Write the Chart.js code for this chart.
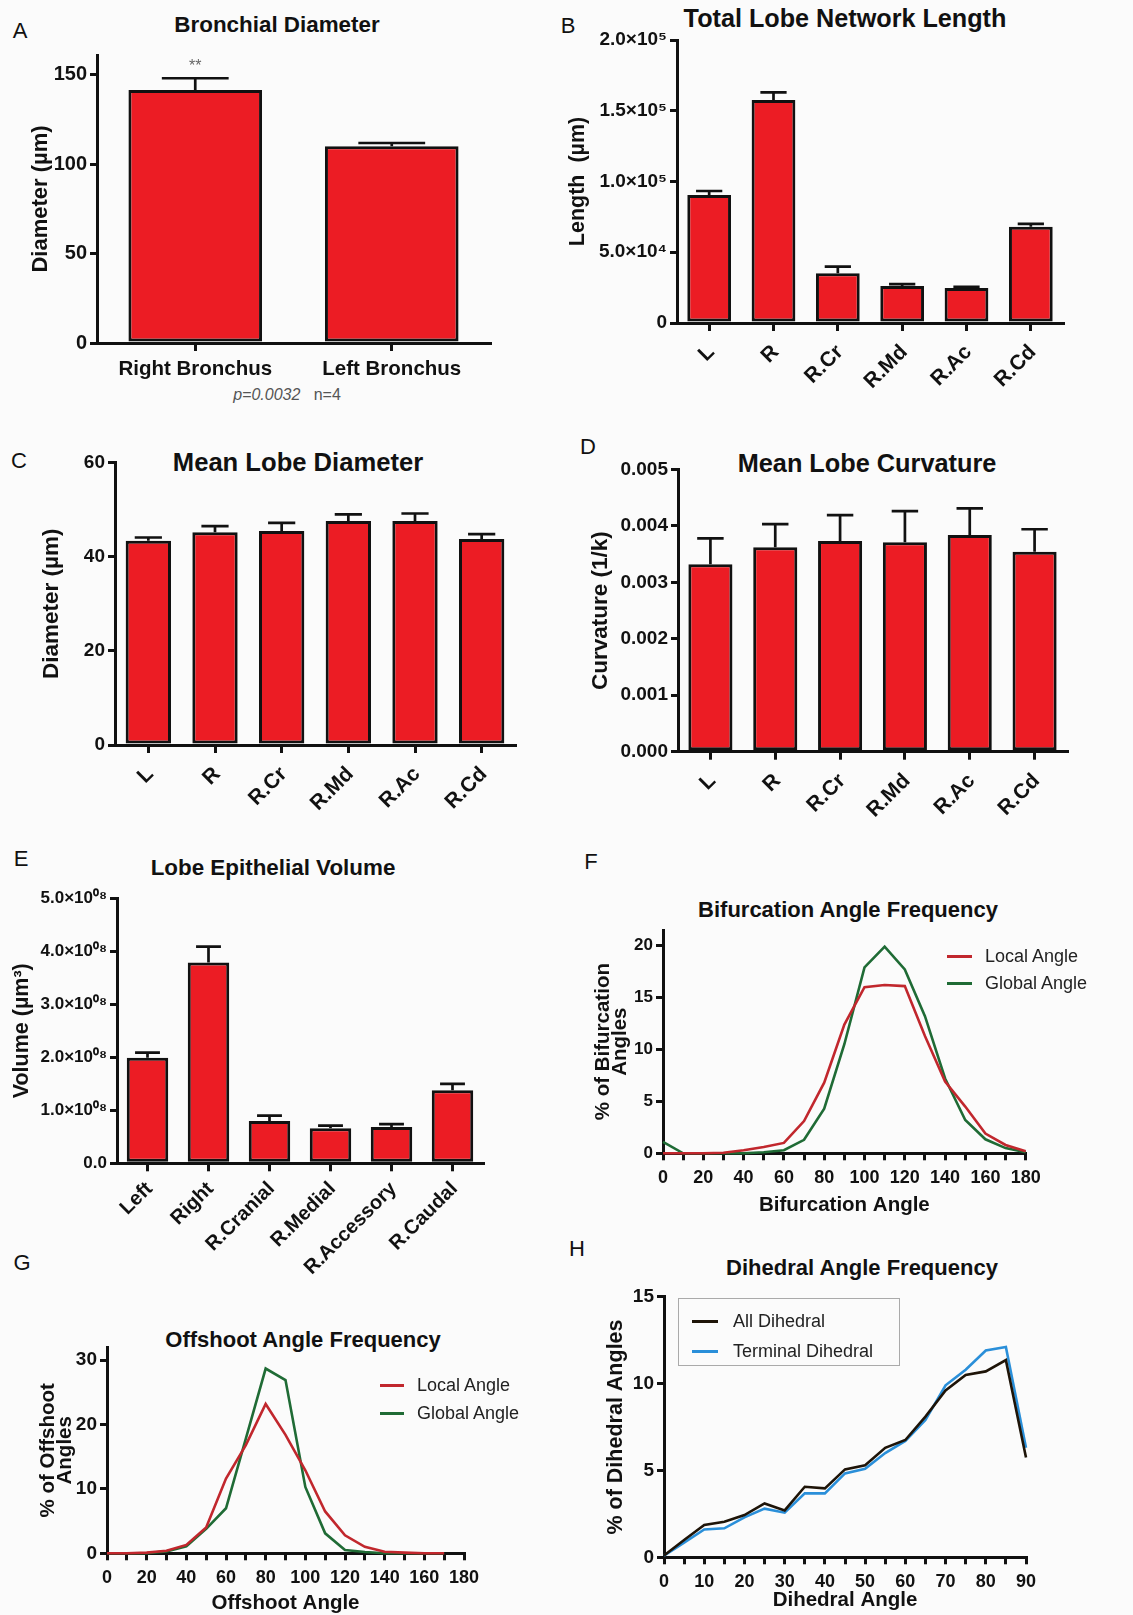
<!DOCTYPE html>
<html>
<head>
<meta charset="utf-8">
<script src="https://cdn.jsdelivr.net/npm/chart.js@4.4.0/dist/chart.umd.min.js"></script>
<style>
  body { margin: 0; background: #fbfbfb; }
  #page { position: relative; width: 1133px; height: 1615px; overflow: hidden;
          font-family: "Liberation Sans", Arial, sans-serif; color: #111; }
  canvas { position: absolute; }
  .lbl { position: absolute; transform: translate(-50%, -50%); white-space: nowrap; }
  .letter { font-size: 22px; }
  .ttl { font-weight: bold; }
  .legend { position: absolute; font-size: 18px; color: #222; box-sizing: border-box; }
  .legend .row { display: flex; align-items: center; }
  .legend .swatch { display: inline-block; height: 3px; }
</style>
</head>
<body>
<div id="page">
  <div class="lbl letter" style="left:20px;top:31px">A</div>
  <div class="lbl letter" style="left:568px;top:26px">B</div>
  <div class="lbl letter" style="left:19px;top:461px">C</div>
  <div class="lbl letter" style="left:588px;top:447px">D</div>
  <div class="lbl letter" style="left:21px;top:859px">E</div>
  <div class="lbl letter" style="left:591px;top:862px">F</div>
  <div class="lbl letter" style="left:22px;top:1263px">G</div>
  <div class="lbl letter" style="left:577px;top:1249px">H</div>

  <div class="lbl ttl" style="left:277px;top:25px;font-size:22.4px">Bronchial Diameter</div>
  <div class="lbl ttl" style="left:845px;top:18px;font-size:25.2px">Total Lobe Network Length</div>
  <div class="lbl ttl" style="left:298px;top:462px;font-size:25.6px">Mean Lobe Diameter</div>
  <div class="lbl ttl" style="left:867px;top:463px;font-size:25.3px">Mean Lobe Curvature</div>
  <div class="lbl ttl" style="left:273px;top:868px;font-size:22.4px">Lobe Epithelial Volume</div>
  <div class="lbl ttl" style="left:848px;top:910px;font-size:22px">Bifurcation Angle Frequency</div>
  <div class="lbl ttl" style="left:303px;top:1340px;font-size:22px">Offshoot Angle Frequency</div>
  <div class="lbl ttl" style="left:862px;top:1268px;font-size:22px">Dihedral Angle Frequency</div>

  <div class="lbl" style="left:287px;top:395px;font-size:16px;color:#555"><i>p=0.0032</i>&nbsp;&nbsp; n=4</div>
</div>

<script>
// ---- data ----
const bronchusLabels = ['Right Bronchus', 'Left Bronchus'];
const bronchusDiameter = [141.5, 110];
const bronchusSem = [6.5, 1.8];

const lobeLabels = ['L', 'R', 'R.Cr', 'R.Md', 'R.Ac', 'R.Cd'];
const lobeLength = [90500, 157600, 35100, 26100, 24700, 68100];
const lobeLengthSem = [2800, 5400, 4700, 1400, 900, 1900];
const lobeDiameter = [43.4, 45.2, 45.5, 47.6, 47.6, 43.8];
const lobeDiameterSem = [0.7, 1.3, 1.7, 1.4, 1.6, 1.0];
const lobeCurvature = [0.00332, 0.00362, 0.00373, 0.00371, 0.00384, 0.00354];
const lobeCurvatureSem = [0.00046, 0.00041, 0.00046, 0.00055, 0.00047, 0.00040];

const volumeLabels = ['Left', 'Right', 'R.Cranial', 'R.Medial', 'R.Accessory', 'R.Caudal'];
const lobeVolume = [1.99e8, 3.79e8, 0.80e8, 0.66e8, 0.685e8, 1.38e8];
const lobeVolumeSem = [0.10e8, 0.30e8, 0.10e8, 0.05e8, 0.055e8, 0.12e8];

const bifAngles = [0, 10, 20, 30, 40, 50, 60, 70, 80, 90, 100, 110, 120, 130, 140, 150, 160, 170, 180];
const bifLocal  = [0, 0, 0, 0.05, 0.3, 0.6, 1.0, 3.1, 6.8, 12.4, 16.0, 16.2, 16.1, 11.3, 6.9, 4.5, 1.9, 0.8, 0.2];
const bifGlobal = [1.1, 0, 0, 0, 0, 0.1, 0.3, 1.3, 4.3, 10.5, 17.9, 19.9, 17.7, 13.2, 7.2, 3.2, 1.35, 0.5, 0.1];

const offAngles = [0, 10, 20, 30, 40, 50, 60, 70, 80, 90, 100, 110, 120, 130, 140, 150, 160, 170];
const offLocal  = [0, 0, 0.1, 0.4, 1.3, 4.0, 11.6, 16.8, 23.2, 18.4, 12.9, 6.5, 2.8, 1.0, 0.25, 0.1, 0, 0];
const offGlobal = [0, 0, 0, 0.3, 1.1, 3.8, 7.0, 17.8, 28.7, 26.9, 10.3, 3.1, 0.5, 0.2, 0, 0, 0, 0];

const dihAngles = [0, 5, 10, 15, 20, 25, 30, 35, 40, 45, 50, 55, 60, 65, 70, 75, 80, 85, 90];
const dihAll      = [0.1, 1.0, 1.86, 2.05, 2.43, 3.1, 2.7, 4.06, 3.97, 5.06, 5.3, 6.3, 6.75, 8.1, 9.6, 10.5, 10.7, 11.35, 5.75];
const dihTerminal = [0.1, 0.84, 1.6, 1.67, 2.3, 2.8, 2.57, 3.68, 3.68, 4.83, 5.1, 6.0, 6.7, 7.9, 9.9, 10.8, 11.9, 12.1, 6.3];

const INK = '#111';
const RED = '#EC1C24';
Chart.defaults.font.family = '"Liberation Sans", Arial, sans-serif';
Chart.defaults.color = INK;

// one-sided SEM bars drawn over the bars
const errorBars = {
  id: 'errorBars',
  afterDatasetsDraw(chart, args, opts) {
    if (!opts || !opts.sem) return;
    const ctx = chart.ctx;
    const y = chart.scales.y;
    const vals = chart.data.datasets[0].data;
    ctx.save();
    ctx.strokeStyle = INK;
    ctx.lineWidth = 2.7;
    chart.getDatasetMeta(0).data.forEach((bar, i) => {
      const top = y.getPixelForValue(vals[i] + opts.sem[i]);
      const half = bar.width * opts.cap / 2;
      ctx.beginPath();
      ctx.moveTo(bar.x, bar.y);
      ctx.lineTo(bar.x, top);
      ctx.moveTo(bar.x - half, top);
      ctx.lineTo(bar.x + half, top);
      ctx.stroke();
      if (opts.marks && opts.marks[i]) {
        ctx.fillStyle = '#666';
        ctx.font = '16px "Liberation Sans", Arial, sans-serif';
        ctx.textAlign = 'center';
        ctx.textBaseline = 'middle';
        ctx.fillText(opts.marks[i], bar.x, top - 12);
      }
    });
    ctx.restore();
  }
};
Chart.register(errorBars);

function mount(box) {
  const c = document.createElement('canvas');
  c.width = box.r - box.l;
  c.height = box.b - box.t;
  c.style.left = box.l + 'px';
  c.style.top = box.t + 'px';
  document.getElementById('page').appendChild(c);
  return c.getContext('2d');
}

// padding + fixed axis sizes so the plot area sits where the figure has it
function geometry(box, area, titleX, titleSize, titleLH, xHeight) {
  const padL = titleX - box.l - titleSize * titleLH / 2 - 2;
  return {
    layout: { padding: { left: padL, top: area.t - box.t, right: box.r - area.r,
                         bottom: box.b - area.b - xHeight } },
    yWidth: area.l - box.l - padL,
    xHeight: xHeight
  };
}

function axisLines(tick) {
  return {
    grid: { drawOnChartArea: false, tickLength: tick, lineWidth: 3, color: INK },
    border: { color: INK, width: 3 }
  };
}

function yAxis(g, max, step, size, title, titleSize, titleLH, fmt) {
  return Object.assign(axisLines(7), {
    min: 0, max: max,
    afterFit: s => { s.width = g.yWidth; },
    ticks: { stepSize: step, includeBounds: false, padding: 3, color: INK,
             font: { size: size, weight: 'bold' }, callback: fmt || (v => v) },
    title: { display: true, text: title, color: INK, padding: { top: 2, bottom: 0 },
             font: { size: titleSize, weight: 'bold', lineHeight: titleLH } }
  });
}

function xCategory(g, size, rot, pad) {
  const a = axisLines(8);
  a.grid.offset = false;
  return Object.assign(a, {
    offset: true,
    afterFit: s => { s.height = g.xHeight; },
    ticks: { color: INK, font: { size: size, weight: 'bold' }, minRotation: rot, maxRotation: rot,
             autoSkip: false, padding: pad, labelOffset: rot ? 2 : 0 }
  });
}

function xLinear(g, max, step, every, title, titleBottom) {
  return Object.assign(axisLines(7), {
    type: 'linear', min: 0, max: max,
    afterFit: s => { s.height = g.xHeight; },
    ticks: { stepSize: step, autoSkip: false, maxRotation: 0, padding: 7, color: INK,
             font: { size: 18, weight: 'bold' }, callback: v => (v % every === 0 ? v : '') },
    title: { display: true, text: title, color: INK, padding: { top: 0, bottom: titleBottom },
             font: { size: 20.5, weight: 'bold', lineHeight: 1.2 } }
  });
}

function barChart(box, area, xHeight, titleX, titleSize, labels, values, sem, yCfg, xSize, rot, xPad, cap, marks) {
  const g = geometry(box, area, titleX, titleSize, 1.2, xHeight);
  return new Chart(mount(box), {
    type: 'bar',
    data: {
      labels: labels,
      datasets: [{
        data: values,
        backgroundColor: RED,
        borderColor: INK,
        borderWidth: 3,
        borderSkipped: false,
        barPercentage: 0.68,
        categoryPercentage: 1.0
      }]
    },
    options: {
      responsive: false,
      animation: false,
      layout: g.layout,
      plugins: { legend: { display: false }, tooltip: { enabled: false },
                 errorBars: { sem: sem, cap: cap, marks: marks } },
      scales: {
        x: xCategory(g, xSize, rot, xPad),
        y: yAxis(g, yCfg.max, yCfg.step, yCfg.size, yCfg.title, titleSize, 1.2, yCfg.fmt)
      }
    }
  });
}

function lineChart(box, area, titleX, titleSize, titleLH, angles, series, yCfg, xCfg) {
  const g = geometry(box, area, titleX, titleSize, titleLH, box.b - area.b);
  return new Chart(mount(box), {
    type: 'line',
    data: {
      datasets: series.map(s => ({
        label: s.label,
        data: angles.map((a, i) => ({ x: a, y: s.values[i] })),
        borderColor: s.color,
        backgroundColor: s.color,
        borderWidth: 2.6,
        pointRadius: 0,
        tension: 0,
        fill: false,
        clip: false
      }))
    },
    options: {
      responsive: false,
      animation: false,
      layout: g.layout,
      plugins: { legend: { display: false }, tooltip: { enabled: false } },
      scales: {
        x: xLinear(g, xCfg.max, xCfg.step, xCfg.every, xCfg.title, box.b - xCfg.titleY - 12.3),
        y: yAxis(g, yCfg.max, yCfg.step, yCfg.size, yCfg.title, titleSize, titleLH)
      }
    }
  });
}

// legend built from the chart's own datasets
function htmlLegend(chart, pos) {
  const div = document.createElement('div');
  div.className = 'legend';
  div.style.left = pos.left + 'px';
  div.style.top = pos.top + 'px';
  if (pos.boxed) {
    div.style.border = '1.5px solid #aaa';
    div.style.width = pos.width + 'px';
    div.style.height = pos.height + 'px';
    div.style.padding = pos.padding;
  }
  chart.data.datasets.forEach(ds => {
    const row = document.createElement('div');
    row.className = 'row';
    row.style.height = pos.row + 'px';
    const sw = document.createElement('span');
    sw.className = 'swatch';
    sw.style.width = pos.swatch + 'px';
    sw.style.marginRight = pos.gap + 'px';
    sw.style.background = ds.borderColor;
    const tx = document.createElement('span');
    tx.textContent = ds.label;
    row.appendChild(sw);
    row.appendChild(tx);
    div.appendChild(row);
  });
  document.getElementById('page').appendChild(div);
}

const sup = { '4': '\u2074', '5': '\u2075' };

// A
barChart({ l: 0, t: 40, r: 520, b: 385 }, { l: 97, t: 53, r: 490, b: 343 }, 42, 41, 22,
  bronchusLabels, bronchusDiameter, bronchusSem,
  { max: 161, step: 50, size: 20, title: 'Diameter (\u00b5m)' }, 20.5, 0, 6, 0.5, ['**', '']);

// B
barChart({ l: 560, t: 25, r: 1110, b: 420 }, { l: 677, t: 40, r: 1063, b: 323 }, 97, 578, 21.5,
  lobeLabels, lobeLength, lobeLengthSem,
  { max: 200000, step: 50000, size: 19, title: 'Length  (\u00b5m)',
    fmt: v => v === 0 ? '0' : (v >= 100000 ? (v / 1e5).toFixed(1) + '\u00d710' + sup['5']
                                            : (v / 1e4).toFixed(1) + '\u00d710' + sup['4']) },
  21, 45, 9, 0.6);

// C
barChart({ l: 0, t: 448, r: 545, b: 840 }, { l: 115, t: 462.7, r: 515, b: 745 }, 95, 52, 22.5,
  lobeLabels, lobeDiameter, lobeDiameterSem,
  { max: 60, step: 20, size: 19, title: 'Diameter (\u00b5m)' }, 21, 45, 9, 0.6);

// D
barChart({ l: 560, t: 455, r: 1110, b: 845 }, { l: 678, t: 469.3, r: 1067, b: 751.7 }, 93, 601, 22.5,
  lobeLabels, lobeCurvature, lobeCurvatureSem,
  { max: 0.005, step: 0.001, size: 19, title: 'Curvature (1/k)', fmt: v => v.toFixed(3) },
  21, 45, 9, 0.6);

// E
barChart({ l: 0, t: 884, r: 545, b: 1290 }, { l: 117, t: 898.3, r: 483, b: 1163.3 }, 126, 22, 21.5,
  volumeLabels, lobeVolume, lobeVolumeSem,
  { max: 5e8, step: 1e8, size: 17, title: 'Volume (\u00b5m\u00b3)',
    fmt: v => v === 0 ? '0.0' : (v / 1e8).toFixed(1) + '\u00d710\u2070\u2078' },
  20, 45, 6, 0.6);

// F
const chartF = lineChart({ l: 560, t: 915, r: 1110, b: 1218 }, { l: 663, t: 930, r: 1025.7, b: 1153.3 },
  603, 20.5, 0.85, bifAngles,
  [{ label: 'Local Angle', values: bifLocal, color: '#C1272D' },
   { label: 'Global Angle', values: bifGlobal, color: '#1F6B35' }],
  { max: 21.5, step: 5, size: 17, title: ['% of Bifurcation', 'Angles'] },
  { max: 180, step: 10, every: 20, title: 'Bifurcation Angle', titleY: 1205 });
htmlLegend(chartF, { left: 947, top: 943, row: 27, swatch: 25, gap: 13 });

// G
const chartG = lineChart({ l: 0, t: 1332, r: 545, b: 1615 }, { l: 107, t: 1347.3, r: 464, b: 1553.3 },
  48, 20.5, 0.85, offAngles,
  [{ label: 'Local Angle', values: offLocal, color: '#C1272D' },
   { label: 'Global Angle', values: offGlobal, color: '#1F6B35' }],
  { max: 32, step: 10, size: 19, title: ['% of Offshoot', 'Angles'] },
  { max: 180, step: 10, every: 20, title: 'Offshoot Angle', titleY: 1603 });
htmlLegend(chartG, { left: 380, top: 1371, row: 28, swatch: 24, gap: 13 });

// H
const chartH = lineChart({ l: 560, t: 1282, r: 1110, b: 1615 }, { l: 664, t: 1296.7, r: 1026, b: 1557.3 },
  616, 21.5, 1.2, dihAngles,
  [{ label: 'All Dihedral', values: dihAll, color: '#1E1408' },
   { label: 'Terminal Dihedral', values: dihTerminal, color: '#2A8FD9' }],
  { max: 15, step: 5, size: 19, title: '% of Dihedral Angles' },
  { max: 90, step: 5, every: 10, title: 'Dihedral Angle', titleY: 1600 });
htmlLegend(chartH, { left: 678, top: 1298, boxed: true, width: 222, height: 68,
                     padding: '7px 0 0 13px', row: 30, swatch: 26, gap: 15 });
</script>
</body>
</html>
